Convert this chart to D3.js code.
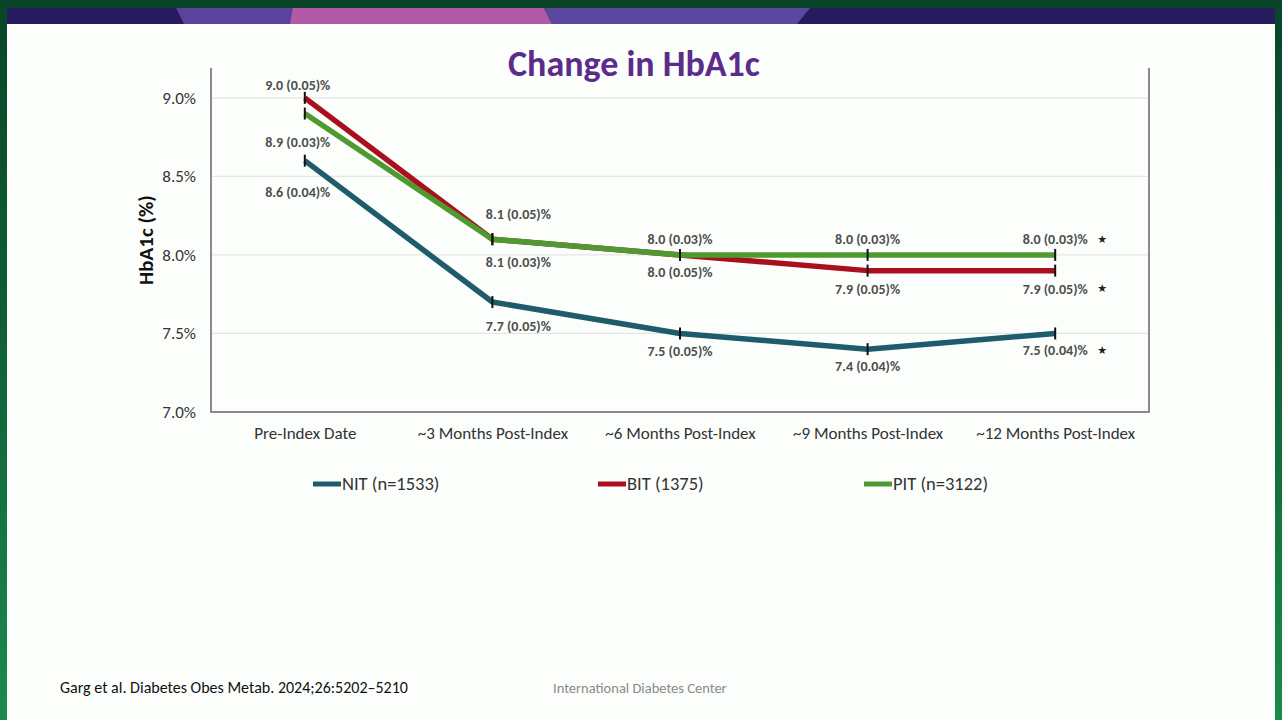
<!DOCTYPE html>
<html>
<head>
<meta charset="utf-8">
<script src="https://cdn.jsdelivr.net/npm/d3@7"></script>
<style>
  body { margin: 0; background: #0b4a2b; }
  svg { display: block; }
  .cal { font-family: Carlito, "Liberation Sans Narrow", "DejaVu Sans Condensed", "Open Sans", sans-serif; }
</style>
</head>
<body>
<svg id="chart"></svg>
<script>
// chart data
var categories = ["Pre-Index Date", "~3 Months Post-Index", "~6 Months Post-Index", "~9 Months Post-Index", "~12 Months Post-Index"];
var nitValues = [8.6, 7.7, 7.5, 7.4, 7.5];
var nitSE     = ["0.04", "0.05", "0.05", "0.04", "0.04"];
var bitValues = [9.0, 8.1, 8.0, 7.9, 7.9];
var bitSE     = ["0.05", "0.05", "0.05", "0.05", "0.05"];
var pitValues = [8.9, 8.1, 8.0, 8.0, 8.0];
var pitSE     = ["0.03", "0.03", "0.03", "0.03", "0.03"];
var significant = [false, false, false, false, true];
var yTicks = [7.0, 7.5, 8.0, 8.5, 9.0];
var seriesNames = ["NIT (n=1533)", "BIT (1375)", "PIT (n=3122)"];

// label placement (px above / below each point)
var labelDy = {
  NIT: [31, 24, 18, 17, 17],
  BIT: [-13, -25, 17, 18, 18],
  PIT: [29, 23, -16, -16, -16]
};
var labelDx = [-7, 26, 0, 0, 0];

var series = [
  { key: "NIT", name: seriesNames[0], values: nitValues, se: nitSE, color: "#1e5b6d" },
  { key: "BIT", name: seriesNames[1], values: bitValues, se: bitSE, color: "#aa0f1e" },
  { key: "PIT", name: seriesNames[2], values: pitValues, se: pitSE, color: "#4f9a30" }
];

var size = { width: 1282, height: 720 };
var plot = { left: 211, right: 1149, top: 68, bottom: 412 };

var svg = d3.select("#chart")
  .attr("width", size.width)
  .attr("height", size.height);

// frame + slide
var grad = svg.append("defs").append("linearGradient")
  .attr("id", "frameGrad").attr("x1", 0).attr("y1", 0).attr("x2", 0).attr("y2", 1);
grad.append("stop").attr("offset", "0%").attr("stop-color", "#0a4528");
grad.append("stop").attr("offset", "45%").attr("stop-color", "#0f5f35");
grad.append("stop").attr("offset", "100%").attr("stop-color", "#1b8a4e");

svg.append("rect").attr("width", size.width).attr("height", size.height).attr("fill", "url(#frameGrad)");
svg.append("rect").attr("x", 0).attr("y", 0).attr("width", size.width).attr("height", 8).attr("fill", "#0a4528");
svg.append("rect")
  .attr("x", 7).attr("y", 8)
  .attr("width", 1268).attr("height", 712)
  .attr("fill", "#fbfefb");

// banner
svg.append("rect").attr("x", 7).attr("y", 8).attr("width", 1268).attr("height", 16).attr("fill", "#261b5d");
svg.append("polygon").attr("points", "176,8 300,8 297,24 184,24").attr("fill", "#5b439d");
svg.append("polygon").attr("points", "293,8 544,8 552,24 290,24").attr("fill", "#b25aa6");
svg.append("polygon").attr("points", "544,8 810,8 797,24 552,24").attr("fill", "#5a47a0");

// title
svg.append("text")
  .attr("class", "cal")
  .attr("x", 634).attr("y", 76)
  .attr("text-anchor", "middle")
  .attr("font-size", 36)
  .attr("font-weight", "bold")
  .attr("fill", "#5b2c8c")
  .text("Change in HbA1c");

// scales
var x = d3.scalePoint()
  .domain(categories)
  .range([plot.left, plot.right])
  .padding(0.5);

var y = d3.scaleLinear()
  .domain([7.0, 9.19])
  .range([plot.bottom, plot.top]);

var g = svg.append("g");

// gridlines
g.append("g")
  .selectAll("line")
  .data(yTicks.filter(function(d){ return d > 7; }))
  .join("line")
  .attr("x1", plot.left).attr("x2", plot.right)
  .attr("y1", function(d){ return y(d); })
  .attr("y2", function(d){ return y(d); })
  .attr("stroke", "#e3e6e3")
  .attr("stroke-width", 1.2);

// y axis
var yAxis = g.append("g")
  .attr("class", "cal")
  .attr("transform", "translate(" + plot.left + ",0)")
  .call(d3.axisLeft(y).tickValues(yTicks).tickSize(0).tickPadding(15)
    .tickFormat(function(d){ return d3.format(".1f")(d) + "%"; }));
yAxis.select(".domain").remove();
yAxis.selectAll("text").attr("font-size", 17).attr("fill", "#333").attr("font-family", null);

// x axis
var xAxis = g.append("g")
  .attr("class", "cal")
  .attr("transform", "translate(0," + plot.bottom + ")")
  .call(d3.axisBottom(x).tickSize(0).tickPadding(15));
xAxis.select(".domain").remove();
xAxis.selectAll("text").attr("font-size", 17).attr("fill", "#333").attr("font-family", null);

// plot frame (left, right, bottom)
g.append("path")
  .attr("d", "M" + plot.left + "," + plot.top + "V" + plot.bottom + "H" + plot.right + "V" + plot.top)
  .attr("fill", "none")
  .attr("stroke", "#8a8a8a")
  .attr("stroke-width", 2);

// y axis title
svg.append("text")
  .attr("class", "cal")
  .attr("transform", "translate(153," + ((plot.top + plot.bottom) / 2) + ") rotate(-90)")
  .attr("text-anchor", "middle")
  .attr("font-size", 21)
  .attr("font-weight", "bold")
  .attr("fill", "#111")
  .text("HbA1c (%)");

// lines
var line = d3.line()
  .x(function(d, i){ return x(categories[i]); })
  .y(function(d){ return y(d); });

series.forEach(function(s){
  g.append("path")
    .datum(s.values)
    .attr("d", line)
    .attr("fill", "none")
    .attr("stroke", s.color)
    .attr("stroke-width", 5.5)
    .attr("stroke-linejoin", "round");
});

// error bar ticks
series.forEach(function(s){
  g.append("g")
    .selectAll("line")
    .data(s.values)
    .join("line")
    .attr("x1", function(d, i){ return x(categories[i]); })
    .attr("x2", function(d, i){ return x(categories[i]); })
    .attr("y1", function(d){ return y(d) - 6; })
    .attr("y2", function(d){ return y(d) + 6; })
    .attr("stroke", "#111")
    .attr("stroke-width", 2);
});

// data labels
series.forEach(function(s){
  g.append("g")
    .attr("class", "cal")
    .selectAll("text")
    .data(s.values)
    .join("text")
    .attr("x", function(d, i){ return x(categories[i]) + labelDx[i]; })
    .attr("y", function(d, i){ return y(d) + labelDy[s.key][i]; })
    .attr("dy", "0.35em")
    .attr("text-anchor", "middle")
    .attr("font-size", 14)
    .attr("font-weight", "bold")
    .attr("fill", "#4d4d4d")
    .text(function(d, i){ return d3.format(".1f")(d) + " (" + s.se[i] + ")%"; });

  // significance stars
  g.append("g")
    .selectAll("text")
    .data(s.values.map(function(d, i){ return { v: d, i: i }; }).filter(function(d){ return significant[d.i]; }))
    .join("text")
    .attr("x", function(d){ return x(categories[d.i]) + 47; })
    .attr("y", function(d){ return y(d.v) + labelDy[s.key][d.i]; })
    .attr("dy", "0.35em")
    .attr("text-anchor", "middle")
    .attr("font-size", 11)
    .attr("fill", "#222")
    .attr("font-family", "DejaVu Sans")
    .text("\u2605");
});

// legend
var legendX = [313, 598, 864];
var legend = svg.append("g").attr("class", "cal");
series.forEach(function(s, i){
  legend.append("line")
    .attr("x1", legendX[i]).attr("x2", legendX[i] + 28)
    .attr("y1", 484).attr("y2", 484)
    .attr("stroke", s.color)
    .attr("stroke-width", 5);
  legend.append("text")
    .attr("x", legendX[i] + 29).attr("y", 484)
    .attr("dy", "0.35em")
    .attr("font-size", 18.5)
    .attr("fill", "#333")
    .text(s.name);
});

// footer
svg.append("text")
  .attr("class", "cal")
  .attr("x", 60).attr("y", 693)
  .attr("font-size", 16)
  .attr("fill", "#111")
  .text("Garg et al. Diabetes Obes Metab. 2024;26:5202\u20135210");

svg.append("text")
  .attr("class", "cal")
  .attr("x", 553).attr("y", 693)
  .attr("font-size", 14.5)
  .attr("fill", "#8a8a8a")
  .text("International Diabetes Center");
</script>
</body>
</html>
